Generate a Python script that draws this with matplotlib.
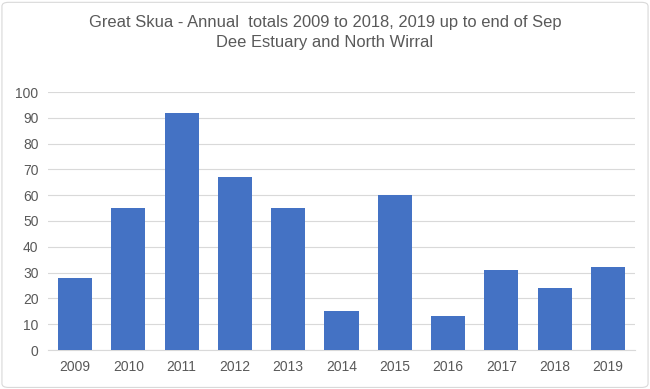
import matplotlib
matplotlib.use("Agg")
import matplotlib.pyplot as plt
from matplotlib.patches import FancyBboxPatch

years = ["2009", "2010", "2011", "2012", "2013", "2014", "2015", "2016", "2017", "2018", "2019"]
totals = [28, 55, 92, 67, 55, 15, 60, 13, 31, 24, 32]
yticks = list(range(0, 101, 10))

TEXT = "#595959"
GRID = "#D9D9D9"
BAR = "#4472C4"

plt.rcParams["font.family"] = ["Liberation Sans", "DejaVu Sans"]

fig = plt.figure(figsize=(6.5, 3.89), dpi=100)
ax = fig.add_axes([48.3 / 650, 1 - 350 / 389, (634.7 - 48.3) / 650, (350 - 92) / 389])

ax.bar(range(len(years)), totals, width=0.64, color=BAR, zorder=3)
ax.set_xlim(-0.5, len(years) - 0.5)
ax.set_ylim(0, 100)
ax.set_yticks(yticks)
ax.set_xticks(range(len(years)))
ax.set_xticklabels(years)
ax.grid(True, axis="y", color=GRID, linewidth=0.8, zorder=0)
for s in ["top", "right", "left"]:
    ax.spines[s].set_visible(False)
ax.spines["bottom"].set_color(GRID)
ax.tick_params(axis="both", length=0, labelsize=10, colors=TEXT, pad=7)

fig.text(0.5, 1 - 22 / 389, "Great Skua - Annual  totals 2009 to 2018, 2019 up to end of Sep",
         ha="center", va="center", fontsize=11.9, color=TEXT)
fig.text(0.5, 1 - 43 / 389, "Dee Estuary and North Wirral",
         ha="center", va="center", fontsize=11.9, color=TEXT)

border = FancyBboxPatch((0.003, 0.004), 0.994, 0.99, boxstyle="round,pad=0,rounding_size=0.01",
                        transform=fig.transFigure, fill=False, edgecolor=GRID, linewidth=0.8)
fig.patches.append(border)

fig.savefig("out.png", dpi=100)
